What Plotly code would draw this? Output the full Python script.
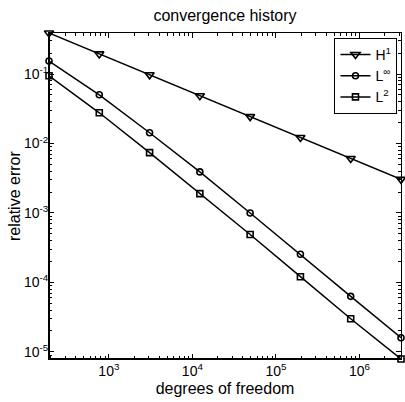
import numpy as np
import plotly.graph_objects as go

dof = [192, 768, 3072, 12288, 49152, 196608, 786432, 3145728]
err_h1 = [0.39, 0.195, 0.0975, 0.0488, 0.0244, 0.0122, 0.0061, 0.00305]
err_linf = [0.154, 0.0503, 0.0143, 0.0039, 0.00100, 0.000255, 6.3e-5, 1.6e-5]
err_l2 = [0.0945, 0.0277, 0.0074, 0.0019, 0.00049, 0.000121, 3.0e-5, 7.9e-6]

x_exps = [3, 4, 5, 6]
y_exps = [-5, -4, -3, -2, -1]

series = [
    ("H<sup>1</sup>", err_h1, "triangle-down-open", 8),
    ("L<sup>∞</sup>", err_linf, "circle-open", 6),
    ("L<sup>2</sup>", err_l2, "square-open", 6),
]

FONT = "Liberation Sans, Arial, Helvetica, sans-serif"

fig = go.Figure()
for name, ys, sym, sz in series:
    fig.add_trace(go.Scatter(
        x=dof, y=ys, name=name, mode="lines+markers",
        line=dict(color="black", width=1.5),
        marker=dict(symbol=sym, size=sz, color="black", line=dict(color="black", width=1.6)),
        cliponaxis=False,
    ))

eps = 1e-4
xr = [np.log10(min(dof)) - eps, np.log10(max(dof)) + eps]
allv = err_h1 + err_linf + err_l2
yr = [np.log10(min(allv)) - eps, np.log10(max(allv)) + eps]


def minor_vals(lo, hi):
    out = []
    for d in range(lo, hi + 1):
        for m in range(2, 10):
            out.append(m * 10.0 ** d)
    return out


def axis_common(exps, mlo, mhi):
    return dict(
        type="log", showgrid=False, zeroline=False,
        showline=True, linecolor="black", linewidth=1, mirror="allticks",
        ticks="inside", ticklen=5, tickwidth=1, tickcolor="black",
        tickmode="array", tickvals=[10.0 ** e for e in exps],
        ticktext=[f"10<sup>{e}</sup>" for e in exps],
        tickfont=dict(family=FONT, size=14, color="black"),
        minor=dict(ticks="inside", ticklen=3, tickcolor="black", tickwidth=1, showgrid=False,
                   tickmode="array", tickvals=minor_vals(mlo, mhi)),
    )


fig.update_layout(
    width=405, height=402,
    margin=dict(l=49, r=4, t=33, b=43),
    paper_bgcolor="white", plot_bgcolor="white",
    font=dict(family=FONT, color="black"),
    title=dict(text="convergence history", x=0.5, xref="paper", xanchor="center",
               y=1 - 15 / 402, yref="container", yanchor="middle",
               font=dict(family=FONT, size=16, color="black")),
    xaxis=dict(range=xr, ticklabelstandoff=-1,
               title=dict(text="degrees of freedom", standoff=5,
               font=dict(family=FONT, size=16, color="black")), **axis_common(x_exps, 2, 6)),
    yaxis=dict(range=yr, ticklabelstandoff=-3, **axis_common(y_exps, -6, -1)),
    legend=dict(x=0.99, xanchor="right", y=0.985, yanchor="top",
                bgcolor="white", bordercolor="black", borderwidth=1,
                font=dict(family=FONT, size=14, color="black"),
                itemwidth=30, tracegroupgap=0),
    showlegend=True,
)

fig.add_annotation(text="relative error", textangle=-90, xref="paper", yref="paper",
                   x=(14 - 49) / 352, y=0.5, xanchor="center", yanchor="middle",
                   showarrow=False, font=dict(family=FONT, size=16, color="black"))

# thicker left and bottom axis lines
fig.add_shape(type="line", xref="x domain", yref="y domain", x0=0, x1=1, y0=0, y1=0,
              line=dict(color="black", width=2))
fig.add_shape(type="line", xref="x domain", yref="y domain", x0=0, x1=0, y0=0, y1=1,
              line=dict(color="black", width=2))

fig.write_html("out.html")
